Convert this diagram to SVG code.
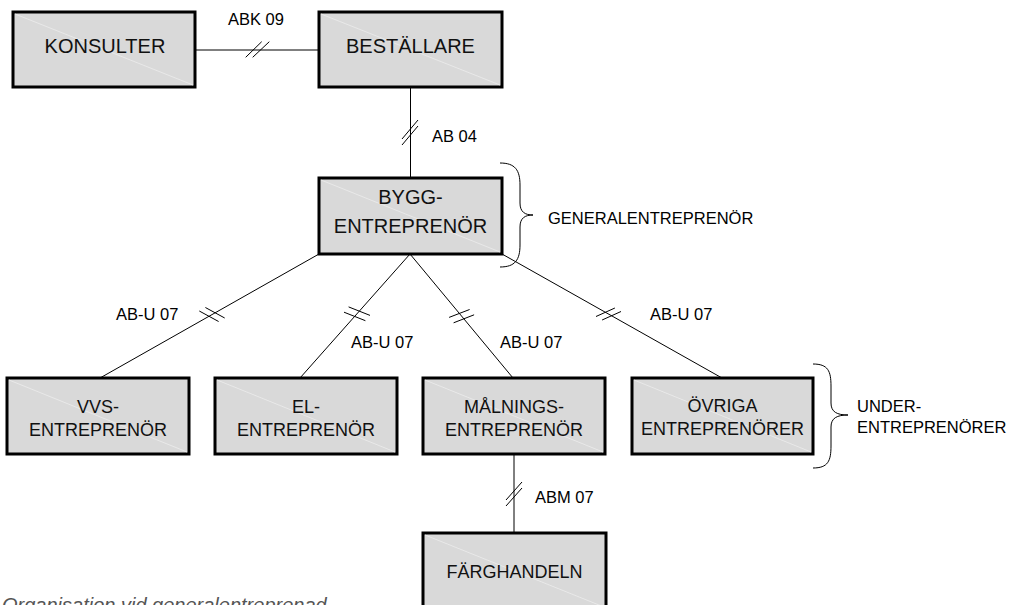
<svg xmlns="http://www.w3.org/2000/svg" width="1017" height="605" viewBox="0 0 1017 605">
<style>
.box{fill:#d9d9d9;stroke:#000;stroke-width:3}
.diag{stroke:#ececec;stroke-width:0.8;fill:none}
.bt{font-family:"Liberation Sans",Arial,sans-serif;font-size:20px;fill:#111;text-anchor:middle}
.bs{font-size:18px}
.lbl{font-family:"Liberation Sans",Arial,sans-serif;font-size:16.5px;fill:#000}
.ln{stroke:#000;stroke-width:1;fill:none}
.br{stroke:#000;stroke-width:1;fill:none}
.cap{font-family:"Liberation Sans",Arial,sans-serif;font-size:20px;font-style:italic;fill:#555}
</style>
<rect width="1017" height="605" fill="#fff"/>
<g id="connectors">
  <line class="ln" x1="195" y1="50" x2="319" y2="50"/>
  <line class="ln" x1="245.7" y1="57.3" x2="261.7" y2="41.7"/>
  <line class="ln" x1="252.7" y1="57.3" x2="269.3" y2="41.7"/>
  <text class="lbl" x="228" y="25">ABK 09</text>

  <line class="ln" x1="410.5" y1="87" x2="410.5" y2="178"/>
  <line class="ln" x1="402" y1="139" x2="418" y2="120"/>
  <line class="ln" x1="402" y1="145" x2="418" y2="126"/>
  <text class="lbl" x="432" y="142">AB 04</text>

  <line class="ln" x1="319" y1="254" x2="100" y2="378"/>
  <line class="ln" x1="199.3" y1="311" x2="218.6" y2="321.5"/>
  <line class="ln" x1="205.4" y1="307.5" x2="224.7" y2="318"/>
  <text class="lbl" x="116" y="320">AB-U 07</text>

  <line class="ln" x1="410" y1="254" x2="300" y2="378"/>
  <line class="ln" x1="344" y1="312.2" x2="365.4" y2="320.7"/>
  <line class="ln" x1="348.6" y1="306.9" x2="370" y2="315.4"/>
  <text class="lbl" x="351" y="348">AB-U 07</text>

  <line class="ln" x1="410" y1="254" x2="513" y2="378"/>
  <line class="ln" x1="453.6" y1="322.8" x2="474.1" y2="314.8"/>
  <line class="ln" x1="449.1" y1="317.4" x2="469.6" y2="309.5"/>
  <text class="lbl" x="500" y="348">AB-U 07</text>

  <line class="ln" x1="502" y1="254" x2="722" y2="378"/>
  <line class="ln" x1="602.1" y1="320" x2="621" y2="311.5"/>
  <line class="ln" x1="596" y1="316.5" x2="614.9" y2="308"/>
  <text class="lbl" x="650" y="320">AB-U 07</text>

  <line class="ln" x1="514" y1="454" x2="514" y2="533"/>
  <line class="ln" x1="506" y1="500" x2="522" y2="482"/>
  <line class="ln" x1="506" y1="506" x2="522" y2="488"/>
  <text class="lbl" x="535" y="503">ABM 07</text>
</g>
<g id="konsulter">
  <rect class="box" x="13" y="12" width="182" height="75"/>
  <line class="diag" x1="15" y1="14" x2="193" y2="85"/>
  <text class="bt" x="105" y="53">KONSULTER</text>
</g>
<g id="bestallare">
  <rect class="box" x="319" y="12" width="183" height="75"/>
  <line class="diag" x1="321" y1="14" x2="500" y2="85"/>
  <text class="bt" x="410.5" y="53">BESTÄLLARE</text>
</g>
<g id="bygg">
  <rect class="box" x="319" y="178" width="183" height="76"/>
  <line class="diag" x1="321" y1="180" x2="500" y2="252"/>
  <text class="bt" x="410.5" y="204">BYGG-</text>
  <text class="bt" x="410.5" y="233">ENTREPRENÖR</text>
</g>
<g id="generalentreprenor">
  <path class="br" d="M500,163 C515,163 520,170 520,185 L520,203 C520,212 525,215 533,215 C525,215 520,218 520,227 L520,245 C520,260 515,267 500,267"/>
  <text class="lbl" x="548" y="224">GENERALENTREPRENÖR</text>
</g>
<g id="vvs">
  <rect class="box" x="7" y="378" width="182" height="76"/>
  <line class="diag" x1="9" y1="380" x2="187" y2="452"/>
  <text class="bt bs" x="98" y="413">VVS-</text>
  <text class="bt bs" x="98" y="436">ENTREPRENÖR</text>
</g>
<g id="el">
  <rect class="box" x="215" y="378" width="182" height="76"/>
  <line class="diag" x1="217" y1="380" x2="395" y2="452"/>
  <text class="bt bs" x="306" y="413">EL-</text>
  <text class="bt bs" x="306" y="436">ENTREPRENÖR</text>
</g>
<g id="malnings">
  <rect class="box" x="423" y="378" width="182" height="76"/>
  <line class="diag" x1="425" y1="380" x2="603" y2="452"/>
  <text class="bt bs" x="514" y="413">MÅLNINGS-</text>
  <text class="bt bs" x="514" y="436">ENTREPRENÖR</text>
</g>
<g id="ovriga">
  <rect class="box" x="632" y="378" width="181" height="76"/>
  <line class="diag" x1="634" y1="380" x2="811" y2="452"/>
  <text class="bt bs" x="722.5" y="412">ÖVRIGA</text>
  <text class="bt bs" x="722.5" y="435">ENTREPRENÖRER</text>
</g>
<g id="underentreprenorer">
  <path class="br" d="M813,364 C828,364 831,371 831,386 L831,403 C831,412 837,415 848,415 C837,415 831,418 831,427 L831,446 C831,461 828,468 813,468"/>
  <text class="lbl" x="857" y="412">UNDER-</text>
  <text class="lbl" x="857" y="433">ENTREPRENÖRER</text>
</g>
<g id="farghandeln">
  <rect class="box" x="423" y="533" width="183" height="76"/>
  <line class="diag" x1="425" y1="535" x2="604" y2="607"/>
  <text class="bt bs" x="514.5" y="578">FÄRGHANDELN</text>
</g>
<text class="cap" x="2" y="612">Organisation vid generalentreprenad</text>
</svg>
